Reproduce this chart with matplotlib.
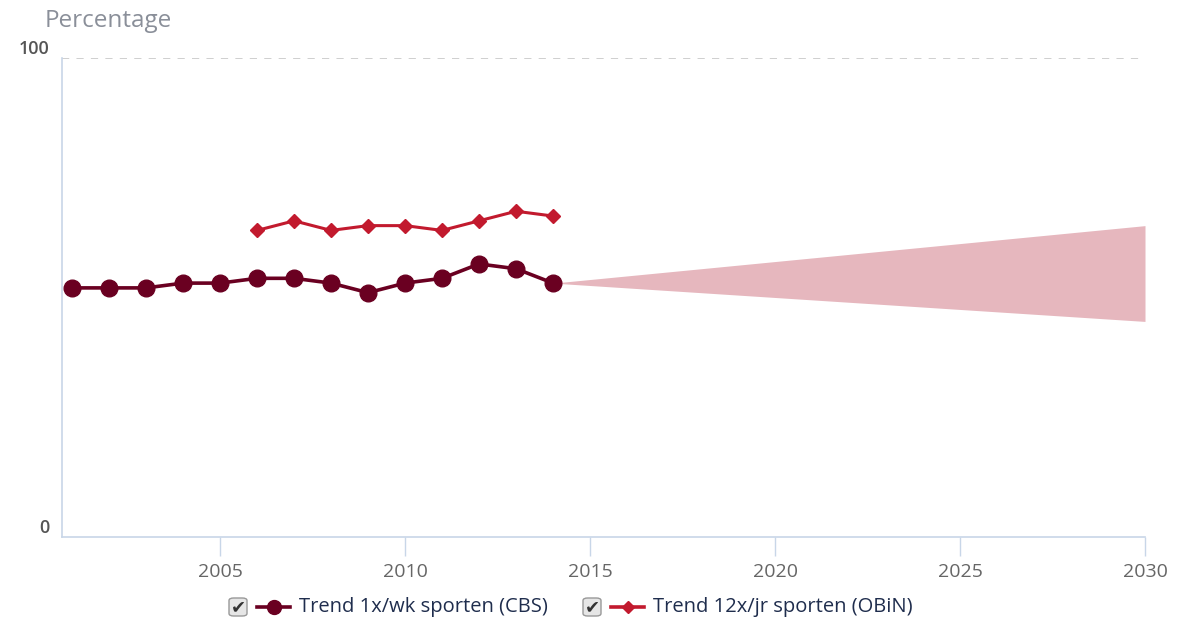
import matplotlib.pyplot as plt
from matplotlib.lines import Line2D
from matplotlib.patches import FancyBboxPatch

plt.rcParams['font.family'] = ['Open Sans', 'DejaVu Sans']

cbs_years = list(range(2001, 2015))
cbs_values = [52, 52, 52, 53, 53, 54, 54, 53, 51, 53, 54, 57, 56, 53]

obin_years = list(range(2006, 2015))
obin_values = [64, 66, 64, 65, 65, 64, 66, 68, 67]

band_years = [2014, 2030]
band_low = [53, 45]
band_high = [53, 65]

x_ticks = [2005, 2010, 2015, 2020, 2025, 2030]
y_ticks = [0, 100]

cbs_color = '#6a0021'
obin_color = '#c21a2e'
band_color = '#e6b7be'
axis_color = '#c8d6e8'
text_color = '#666666'
legend_text = '#1f2d4d'

fig = plt.figure(figsize=(11.82, 6.2), dpi=100)
ax = fig.add_axes([0.0525, 0.1339, 0.9162, 0.7726])

ax.fill_between(band_years, band_low, band_high, color=band_color, lw=0, zorder=1)
ax.plot(cbs_years, cbs_values, color=cbs_color, lw=2.6, marker='o', ms=12, zorder=3)
ax.plot(obin_years, obin_values, color=obin_color, lw=2.2, marker='D', ms=7.5, zorder=3)

ax.axhline(100, color='#cccccc', lw=1.3, ls=(0, (4, 4)), zorder=0)

ax.set_xlim(2000.73, 2030)
ax.set_ylim(0, 100)
ax.set_xticks(x_ticks)
ax.set_yticks(y_ticks)
ax.tick_params(axis='x', length=14, width=1, color=axis_color, labelcolor=text_color,
               labelsize=14, pad=5)
ax.tick_params(axis='y', length=0, labelsize=13, labelcolor='#555555', pad=9)
for lab in ax.get_yticklabels():
    lab.set_verticalalignment('bottom')
    lab.set_fontweight('semibold')

for s in ['top', 'right']:
    ax.spines[s].set_visible(False)
for s in ['left', 'bottom']:
    ax.spines[s].set_color(axis_color)
    ax.spines[s].set_linewidth(1.2)

fig.text(45 / 1182, 1 - 21 / 620, 'Percentage', fontsize=17.5, color='#8a8f99',
         ha='left', va='center')

# legend with checkboxes
labels = ['Trend 1x/wk sporten (CBS)', 'Trend 12x/jr sporten (OBiN)']
colors = [cbs_color, obin_color]
markers = ['o', 'D']
msizes = [10, 6.5]
box_x = [229, 583]
ly = 1 - 607 / 620
for bx, lab, c, m, ms in zip(box_x, labels, colors, markers, msizes):
    box = FancyBboxPatch((bx / 1182, ly - 9 / 620), 18 / 1182, 18 / 620,
                         boxstyle='round,pad=0,rounding_size=0.004',
                         transform=fig.transFigure, facecolor='#e6e6e6',
                         edgecolor='#999999', lw=1)
    fig.add_artist(box)
    fig.text((bx + 9) / 1182, ly, '✔', fontsize=13, color='#333333',
             ha='center', va='center', family='DejaVu Sans')
    fig.add_artist(Line2D([(bx + 28) / 1182, (bx + 61) / 1182], [ly, ly],
                          transform=fig.transFigure, color=c, lw=2.6))
    fig.add_artist(Line2D([(bx + 44.5) / 1182], [ly], transform=fig.transFigure,
                          color=c, marker=m, ms=ms))
    fig.text((bx + 70) / 1182, ly, lab, fontsize=14.5, color=legend_text,
             ha='left', va='center')

fig.savefig('out.png', dpi=100)
